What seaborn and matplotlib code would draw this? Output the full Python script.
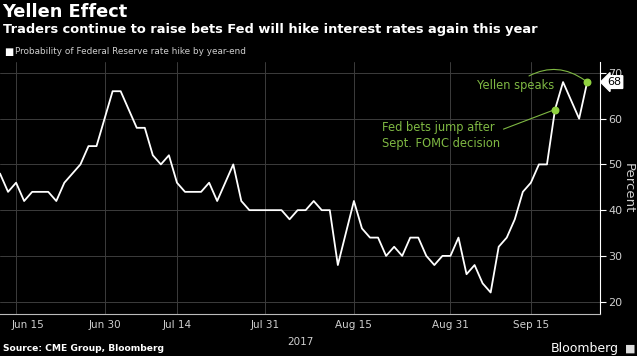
import numpy as np
import pandas as pd
import matplotlib
matplotlib.use('Agg')
import matplotlib.pyplot as plt
import matplotlib.transforms as mtransforms
import seaborn as sns

# probability (%) of a Fed rate hike by year-end, one value per business day
# from Jun 13 to Sep 26, 2017
probability = [
    48, 44, 46, 42, 44, 44, 44, 42, 46, 48,
    50, 54, 54, 60, 66, 66, 62, 58, 58, 52,
    50, 52, 46, 44, 44, 44, 46, 42, 46, 50,
    42, 40, 40, 40, 40, 40, 38, 40, 40, 42,
    40, 40, 28, 35, 42, 36, 34, 34, 30, 32,
    30, 34, 34, 30, 28, 30, 30, 34, 26, 28,
    24, 22, 32, 34, 38, 44, 46, 50, 50, 62,
    68, 64, 60, 68,
]
tick_pos = [2, 13, 22, 33, 44, 56, 66]
tick_labels = ['Jun 15', 'Jun 30', 'Jul 14', 'Jul 31', 'Aug 15', 'Aug 31', 'Sep 15']
minor_pos = [7, 17, 28, 39, 50, 61, 71]
y_ticks = [20, 30, 40, 50, 60, 70]
fomc_day = 69
yellen_day = 73

df = pd.DataFrame({'day': np.arange(len(probability)), 'prob': probability})

sns.set_style('dark')
plt.rcParams['font.family'] = ['DejaVu Sans']

green_txt = '#7fb843'
green_dot = '#8fd13f'
grey = '#cfcfcf'

fig = plt.figure(figsize=(6.37, 3.56), dpi=100, facecolor='black')
ax = fig.add_axes([0.0, 0.118, 0.942, 0.708])
ax.set_facecolor('black')

sns.lineplot(data=df, x='day', y='prob', ax=ax, color='white', linewidth=1.3)

ax.set_xlim(0, 74.6)
ax.set_ylim(17.3, 72.4)
ax.set_xticks(tick_pos)
ax.set_xticklabels(tick_labels)
ax.set_xticks(minor_pos, minor=True)
ax.set_yticks(y_ticks)
ax.yaxis.tick_right()
ax.yaxis.set_label_position('right')
ax.set_xlabel('')
ax.set_ylabel('Percent', color=grey, fontsize=9.5, rotation=270, labelpad=9)

ax.grid(True, which='major', color='#3c3c3c', linewidth=0.7)
ax.tick_params(axis='x', which='both', colors='#888888', labelcolor=grey,
               labelsize=7.5, length=3, width=0.6, pad=1)
ax.tick_params(axis='y', colors='white', labelcolor=grey, labelsize=8,
               length=4, width=0.8, pad=2, right=True, left=False)
for side in ['top', 'left']:
    ax.spines[side].set_visible(False)
ax.spines['right'].set_color('white')
ax.spines['bottom'].set_color('#bbbbbb')
ax.spines['right'].set_linewidth(0.8)
ax.spines['bottom'].set_linewidth(0.8)

# first label is nudged right so it is not cut off
first = ax.get_xticklabels()[0]
first.set_transform(first.get_transform() +
                    mtransforms.ScaledTranslation(0.12, 0, fig.dpi_scale_trans))

# highlighted points
ax.scatter([fomc_day, yellen_day],
           [probability[fomc_day], probability[yellen_day]],
           color=green_dot, s=22, zorder=5)

ax.annotate('Fed bets jump after\nSept. FOMC decision',
            xy=(fomc_day, probability[fomc_day]), xytext=(47.5, 56.3),
            color=green_txt, fontsize=8.3, ha='left', va='center',
            linespacing=1.25,
            arrowprops=dict(arrowstyle='-', color=green_txt, lw=0.8,
                            shrinkA=0, shrinkB=2, relpos=(0.96, 0.62)))
ax.annotate('Yellen speaks',
            xy=(yellen_day, probability[yellen_day]), xytext=(64.1, 67.2),
            color=green_txt, fontsize=8.3, ha='center', va='center',
            arrowprops=dict(arrowstyle='-', color=green_txt, lw=0.8,
                            shrinkA=0, shrinkB=2, relpos=(0.6, 1.0),
                            connectionstyle='arc3,rad=-0.35'))

# last value flag on the right axis
ax.text(1.012, (probability[-1] - 17.3) / (72.4 - 17.3), str(probability[-1]),
        transform=ax.transAxes, ha='left', va='center', fontsize=8,
        color='black',
        bbox=dict(boxstyle='larrow,pad=0.12', facecolor='white',
                  edgecolor='white'))

ax.text(0.522, -0.09, '2017', transform=ax.transAxes, ha='right',
        va='top', color=grey, fontsize=7.5)

fig.text(0.004, 0.992, 'Yellen Effect', color='white', fontsize=12.8,
         fontweight='bold', va='top', ha='left')
fig.text(0.004, 0.935, 'Traders continue to raise bets Fed will hike interest rates again this year',
         color='white', fontsize=9.4, fontweight='bold', va='top', ha='left')
fig.text(0.006, 0.854, '\u25a0', color='white', fontsize=7, va='center', ha='left')
fig.text(0.023, 0.854, 'Probability of Federal Reserve rate hike by year-end',
         color=grey, fontsize=6.4, va='center', ha='left')
fig.text(0.004, 0.022, 'Source: CME Group, Bloomberg', color='white',
         fontsize=6.6, fontweight='bold', va='center', ha='left')
fig.text(0.972, 0.022, 'Bloomberg', color='white', fontsize=9,
         va='center', ha='right')
fig.text(0.981, 0.022, '\u25a0', color='#dddddd', fontsize=8,
         va='center', ha='left')

fig.savefig('out.png', dpi=100, facecolor='black')
